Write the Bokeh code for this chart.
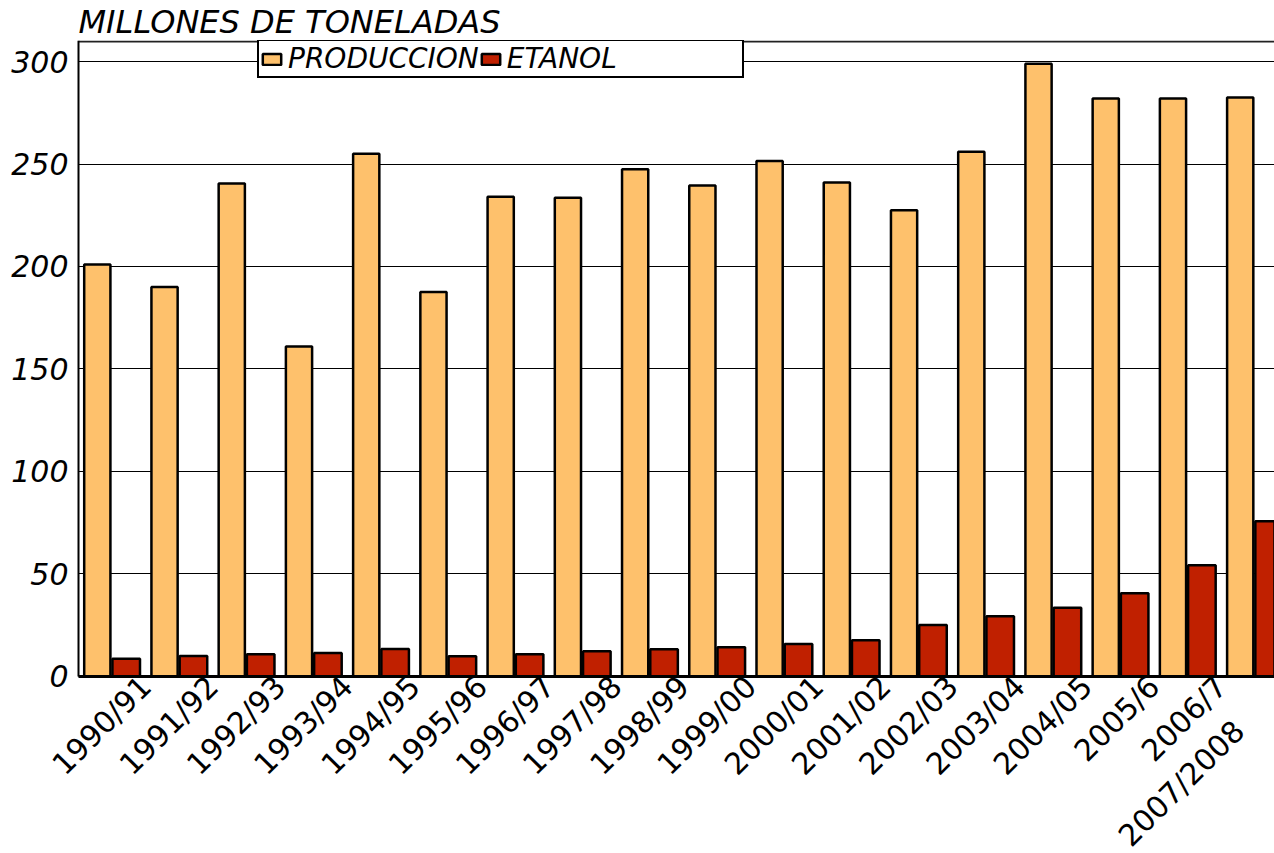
import math
from bokeh.plotting import figure
from bokeh.models import Range1d, FixedTicker, Legend, LegendItem
from bokeh.embed import file_html
from bokeh.resources import INLINE

categories = ["1990/91", "1991/92", "1992/93", "1993/94", "1994/95", "1995/96",
              "1996/97", "1997/98", "1998/99", "1999/00", "2000/01", "2001/02",
              "2002/03", "2003/04", "2004/05", "2005/6", "2006/7", "2007/2008"]
produccion = [201, 190, 240.5, 161, 255, 187.5, 234, 233.5, 247.5, 239.5,
              251.5, 241, 227.5, 256, 299, 282, 282, 282.5]
etanol = [8.6, 9.9, 10.7, 11.4, 13.3, 9.8, 10.7, 12.2, 13.2, 14.2,
          15.8, 17.6, 25.0, 29.3, 33.5, 40.5, 54.2, 75.7]
y_ticks = [0, 50, 100, 150, 200, 250, 300]
title_text = "MILLONES DE TONELADAS"
series_names = ["PRODUCCION", "ETANOL"]

ORANGE = "#FEC16C"
RED = "#C02000"
FONT = "DejaVu Sans"
Y_TOP = 310.3
X_END = 17.79

n = len(categories)
idx = list(range(n))

p = figure(width=1274, height=853, output_backend="svg", toolbar_location=None,
           x_range=Range1d(-1.16, X_END), y_range=Range1d(-86.5, Y_TOP),
           min_border_left=0, min_border_right=0, min_border_top=0,
           min_border_bottom=0)

p.title.text = title_text
p.title.text_font = FONT
p.title.text_font_style = "italic"
p.title.text_font_size = "32px"
p.title.text_color = "black"
p.title.standoff = 0
p.title.offset = 78

# top border of the plotting area, starting at the value axis
p.segment(x0=[0], x1=[X_END], y0=[Y_TOP - 0.5], y1=[Y_TOP - 0.5],
          line_color="#222222", line_width=2)

r1 = p.vbar(x=[i + 0.28 for i in idx], top=produccion, width=0.39,
            fill_color=ORANGE, line_color="black", line_width=2.5)
r2 = p.vbar(x=[i + 0.71 for i in idx], top=etanol, width=0.41,
            fill_color=RED, line_color="black", line_width=2.5)
# invisible renderer used only to pad the legend box to its full width
r_pad = p.vbar(x=[], top=[], width=0.4, fill_alpha=0, line_alpha=0)

p.outline_line_color = None
p.background_fill_color = "white"
p.border_fill_color = "white"

p.xgrid.visible = False
p.ygrid.grid_line_color = "black"
p.ygrid.grid_line_width = 1
p.ygrid.ticker = FixedTicker(ticks=y_ticks)
p.ygrid.cross_bounds = (0, X_END)

p.yaxis.fixed_location = 0
p.yaxis.ticker = FixedTicker(ticks=y_ticks)
p.yaxis.bounds = (0, Y_TOP)
p.yaxis.major_label_text_font = FONT
p.yaxis.major_label_text_font_style = "italic"
p.yaxis.major_label_text_font_size = "30px"
p.yaxis.major_label_text_color = "black"
p.yaxis.major_label_standoff = 10
p.yaxis.major_tick_out = 0
p.yaxis.major_tick_in = 0
p.yaxis.minor_tick_out = 0
p.yaxis.minor_tick_in = 0
p.yaxis.axis_line_width = 2
p.yaxis.axis_line_color = "black"

# tick labels end at each category's right edge; the last one is dropped lower
x_ticks = [i + 1 for i in idx[:-1]] + [16.6]
overrides = {i + 1: categories[i] for i in idx[:-1]}
overrides[16.6] = "\n\n\n" + categories[-1]
p.xaxis.fixed_location = 0
p.xaxis.bounds = (0, X_END)
p.xaxis.ticker = FixedTicker(ticks=x_ticks)
p.xaxis.major_label_overrides = overrides
p.xaxis.major_label_orientation = math.pi / 4
p.xaxis.major_label_text_font = FONT
p.xaxis.major_label_text_font_size = "30px"
p.xaxis.major_label_text_color = "black"
p.xaxis.major_label_standoff = 5
p.xaxis.major_tick_out = 0
p.xaxis.major_tick_in = 0
p.xaxis.minor_tick_out = 0
p.xaxis.minor_tick_in = 0
p.xaxis.axis_line_width = 3
p.xaxis.axis_line_color = "black"

legend = Legend(items=[LegendItem(label=series_names[0], renderers=[r1]),
                       LegendItem(label=series_names[1], renderers=[r2]),
                       LegendItem(label=" ", renderers=[r_pad])],
                orientation="horizontal", location=(257, 775),
                label_text_font=FONT, label_text_font_style="italic",
                label_text_font_size="28px", label_text_color="black",
                glyph_width=23, glyph_height=14,
                label_standoff=5, label_width=96, label_height=29,
                spacing=0, padding=1,
                margin=0, border_line_color="black", border_line_width=2,
                border_line_alpha=1,
                background_fill_color="white", background_fill_alpha=1)
p.add_layout(legend)

open("out.html", "w").write(file_html(p, INLINE))
